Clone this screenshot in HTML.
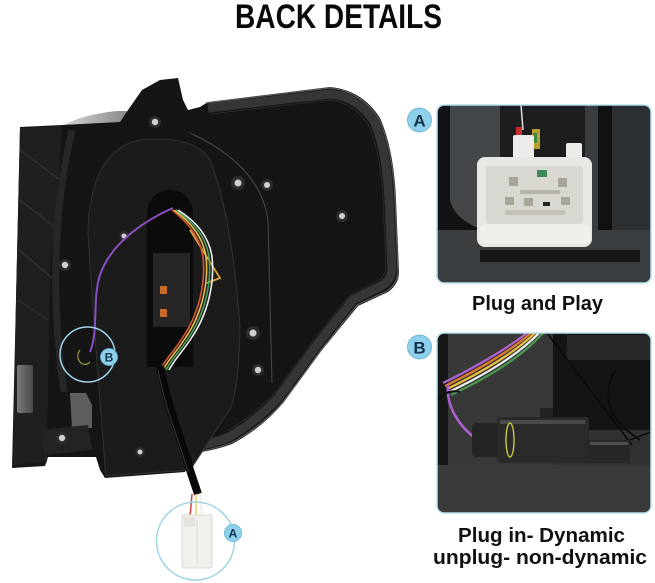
<!DOCTYPE html>
<html><head><meta charset="utf-8"><style>
html,body{margin:0;padding:0;background:#fff;}
svg{display:block}
text{font-family:"Liberation Sans",sans-serif;font-weight:bold;}
</style></head><body>
<svg width="655" height="583" viewBox="0 0 655 583" xmlns="http://www.w3.org/2000/svg">
<defs>
<clipPath id="ca"><rect x="437" y="105" width="214" height="178" rx="7"/></clipPath>
<clipPath id="cb"><rect x="437" y="333" width="214" height="180" rx="7"/></clipPath>
<linearGradient id="gb" x1="0" y1="0" x2="1" y2="0"><stop offset="0" stop-color="#7a7a7a"/><stop offset="1" stop-color="#4a4a4a"/></linearGradient>
<linearGradient id="gt" x1="0" y1="0" x2="1" y2="0"><stop offset="0" stop-color="#d8d8d8"/><stop offset="1" stop-color="#8a8a8a"/></linearGradient>
</defs>
<rect width="655" height="583" fill="#fff"/>
<text x="235" y="28" font-size="34" textLength="207" lengthAdjust="spacingAndGlyphs" fill="#0a0a0a">BACK DETAILS</text>

<!-- ===== LAMP ===== -->
<path d="M60,127 Q80,115 116,111 L127,111 L124,123 L62,129 Z" fill="url(#gt)"/>
<path d="M20,127 L62,125 L120,122 L128,110 L142,90 L160,80 L178,78 L183,100 L188,110 L200,107 L208,102 L330,87 Q362,90 380,118 Q394,150 396,200 L399,272 Q399,284 388,292 L358,306 L322,350 L284,402 Q262,428 232,444 Q210,452 190,453 L185,472 L105,478 L100,470 L96,457 L48,457 L45,466 L12,468 L16,300 Z" fill="#151515"/>
<!-- rim -->
<path d="M208,108 L330,94 Q357,96 374,121 Q387,152 389,200 L392,268 Q392,279 383,285 L353,300 L317,345 L279,397 Q257,421 229,437 Q210,445 192,446" fill="none" stroke="#363636" stroke-width="9"/>
<path d="M206,103 L330,88 Q361,91 379,119 Q393,151 395,200 L398,271 Q398,283 387,291 L357,305 L321,350 L283,402 Q261,427 231,443 Q210,451 190,452" fill="none" stroke="#5a5a5a" stroke-width="1.2"/>
<path d="M210,114 L330,100 Q352,102 368,124 Q381,154 383,200 L386,266 Q386,276 378,281 L349,296 L313,341 L275,393 Q253,416 227,431" fill="none" stroke="#2a2a2a" stroke-width="1"/>
<!-- left panel -->
<path d="M20,128 L62,126 Q58,200 50,265 L47,462 L13,465 L16,300 Z" fill="#1f1f1f"/>
<path d="M20,150 L60,180 M20,200 L56,228 M19,250 L52,278 M18,300 L48,320" stroke="#303030" stroke-width="1.5"/>
<path d="M72,130 Q44,250 64,392" fill="none" stroke="#272727" stroke-width="7"/>
<!-- plate -->
<path d="M88,233 Q90,150 140,140 Q195,135 210,160 Q233,220 240,330 Q238,400 228,412 L190,470 L106,476 L100,400 Q92,300 88,233 Z" fill="#1b1b1b" stroke="#2e2e2e" stroke-width="1.2"/>
<!-- gray blocks -->
<rect x="17" y="365" width="16" height="48" rx="2" fill="url(#gb)"/>
<path d="M70,393 L86,393 L92,405 L92,428 L72,428 Z" fill="#5e5e5e"/>
<path d="M40,430 L88,425 L92,450 L45,455 Z" fill="#232323"/>
<!-- light line right body -->
<path d="M190,133 Q260,165 268,220 L272,383" fill="none" stroke="#4a4a4a" stroke-width="1"/>
<!-- slot -->
<path d="M147,367 L147,213 A23,23 0 0 1 193,213 L193,367 Z" fill="#0b0b0b"/>
<rect x="153" y="253" width="37" height="74" fill="#262626"/>
<rect x="160" y="286" width="7" height="8" fill="#c86a2a"/>
<rect x="160" y="309" width="7" height="8" fill="#c86a2a"/>
<!-- screws -->
<g fill="#2c2c2c">
<circle cx="155" cy="122" r="6"/><circle cx="65" cy="265" r="6"/><circle cx="124" cy="236" r="5"/>
<circle cx="238" cy="183" r="7"/><circle cx="267" cy="185" r="6"/><circle cx="342" cy="216" r="6"/>
<circle cx="253" cy="333" r="7"/><circle cx="258" cy="370" r="6"/><circle cx="62" cy="438" r="6"/><circle cx="140" cy="452" r="5"/>
</g>
<g fill="#cfcfcf">
<circle cx="155" cy="122" r="3.2"/><circle cx="65" cy="265" r="3.2"/><circle cx="124" cy="236" r="2.5"/>
<circle cx="238" cy="183" r="3.5"/><circle cx="267" cy="185" r="3"/><circle cx="342" cy="216" r="3"/>
<circle cx="253" cy="333" r="3.5"/><circle cx="258" cy="370" r="3.2"/><circle cx="62" cy="438" r="3.2"/><circle cx="140" cy="452" r="2.5"/>
</g>
<!-- wires -->
<path d="M173,208 C150,218 112,240 100,275 C92,300 99,330 90,352" fill="none" stroke="#8a4fc0" stroke-width="2"/>
<path d="M190,230 L220,278 L207,283" fill="none" stroke="#e0a040" stroke-width="1.8"/>
<g fill="none" stroke-width="1.6">
<path d="M172,210 C185,220 200,235 203,257 C206,285 198,315 183,337 C175,350 165,360 160,370" stroke="#d05a30"/>
<path d="M174,210 C188,220 203,235 206,257 C209,285 201,315 186,337 C178,350 168,360 163,370" stroke="#e8c050"/>
<path d="M176,210 C191,220 206,235 209,257 C212,285 204,315 189,337 C181,350 171,360 166,370" stroke="#4aa060"/>
<path d="M178,210 C194,220 209,235 212,257 C215,285 207,315 192,337 C184,350 174,360 169,370" stroke="#eeeeee"/>
</g>
<!-- cable -->
<path d="M160,366 C168,410 182,440 190,470 L198,494" fill="none" stroke="#080808" stroke-width="8"/>
<path d="M158,370 C166,412 180,442 188,472" fill="none" stroke="#3a3a3a" stroke-width="1"/>
<path d="M192,494 L190,517" stroke="#d04040" stroke-width="1.5"/>
<path d="M196,494 L196,517" stroke="#e8d060" stroke-width="1.5"/>
<path d="M200,494 L202,517" stroke="#eeeeee" stroke-width="1.5"/>
<!-- connector A small -->
<rect x="182" y="515" width="30" height="53" rx="2" fill="#f1f0ec" stroke="#d8d8d4" stroke-width="1"/>
<line x1="197" y1="520" x2="197" y2="565" stroke="#dcdcd6" stroke-width="1"/>
<rect x="184" y="517" width="11" height="10" fill="#e4e3de"/>
<!-- circles -->
<circle cx="195.5" cy="541" r="39" fill="none" stroke="#9fd3e6" stroke-width="1.5"/>
<circle cx="87.5" cy="354.5" r="27.5" fill="none" stroke="#9fd3e6" stroke-width="1.5"/>
<path d="M80,350 A6,7 0 0 0 90,362" fill="none" stroke="#b0b040" stroke-width="1"/>
<circle cx="233" cy="533" r="8.5" fill="#8fd0ea" stroke="#5fb0d5" stroke-width="0.8"/>
<text x="233" y="537.5" font-size="12" text-anchor="middle" fill="#13324f">A</text>
<circle cx="109" cy="357" r="8.5" fill="#8fd0ea" stroke="#5fb0d5" stroke-width="0.8"/>
<text x="109" y="361.5" font-size="12" text-anchor="middle" fill="#13324f">B</text>

<!-- ===== PANEL A ===== -->
<g clip-path="url(#ca)">
<rect x="437" y="105" width="214" height="178" fill="#24272a"/>
<path d="M450,105 L500,105 L500,215 Q495,228 480,228 L450,222 Z" fill="#44474a"/>
<path d="M437,105 L450,105 L450,200 Q455,222 490,232 L437,232 Z" fill="#121314"/>
<rect x="500" y="105" width="85" height="123" fill="#1b1d1f"/>
<rect x="585" y="105" width="13" height="125" fill="#3a3d40"/>
<rect x="598" y="105" width="14" height="125" fill="#111"/>
<rect x="612" y="105" width="39" height="125" fill="#2d3033"/>
<rect x="437" y="230" width="214" height="53" fill="#3b3e41"/>
<rect x="480" y="250" width="160" height="12" fill="#161718"/>
<path d="M521,105 L523,130" stroke="#dddddd" stroke-width="1.5"/>
<rect x="516" y="127" width="6" height="9" fill="#c83030"/>
<rect x="532" y="129" width="8" height="20" fill="#b8a030"/>
<rect x="533" y="133" width="4" height="10" fill="#3a8a40"/>
<rect x="513" y="135" width="21" height="28" rx="2" fill="#ecebe7"/>
<rect x="566" y="143" width="16" height="20" rx="2" fill="#ecebe7"/>
<rect x="477" y="157" width="115" height="90" rx="8" fill="#e9e7e3"/>
<rect x="486" y="166" width="97" height="58" rx="3" fill="#d9d7d2"/>
<rect x="537" y="170" width="10" height="7" fill="#3e8a5a"/>
<rect x="509" y="177" width="9" height="9" fill="#a9a49a"/>
<rect x="558" y="178" width="9" height="9" fill="#a9a49a"/>
<rect x="520" y="190" width="40" height="4" fill="#b8b4ac"/>
<rect x="505" y="197" width="9" height="8" fill="#a9a49a"/>
<rect x="524" y="198" width="9" height="8" fill="#a9a49a"/>
<rect x="543" y="202" width="7" height="4" fill="#222"/>
<rect x="561" y="197" width="9" height="8" fill="#a9a49a"/>
<rect x="505" y="210" width="60" height="5" fill="#c4c0b8"/>
<rect x="480" y="224" width="110" height="20" rx="5" fill="#f0efec"/>
</g>
<rect x="437" y="105" width="214" height="178" rx="7" fill="none" stroke="#b5e0ee" stroke-width="1.5"/>
<circle cx="419.5" cy="120" r="12" fill="#8fd0ea" stroke="#5fb0d5" stroke-width="0.8"/>
<text x="419.5" y="126.5" font-size="17" text-anchor="middle" fill="#13324f">A</text>
<text x="472" y="310" font-size="20" textLength="131" lengthAdjust="spacingAndGlyphs" fill="#111">Plug and Play</text>

<!-- ===== PANEL B ===== -->
<g clip-path="url(#cb)">
<rect x="437" y="333" width="214" height="180" fill="#313131"/>
<rect x="437" y="333" width="11" height="180" fill="#161616"/>
<rect x="448" y="333" width="105" height="135" fill="#383838"/>
<rect x="553" y="333" width="98" height="97" fill="#141414"/>
<rect x="567" y="335" width="84" height="25" fill="#282828"/>
<rect x="437" y="465" width="214" height="48" fill="#3a3a3a"/>
<g fill="none" stroke-width="2.2">
<path d="M443,383 C470,370 505,350 527,333" stroke="#b060d0"/>
<path d="M445,386 C472,373 508,353 531,333" stroke="#e07a30"/>
<path d="M447,389 C474,376 511,356 535,333" stroke="#e8c040"/>
<path d="M449,392 C476,379 514,359 539,333" stroke="#eeeeee"/>
<path d="M451,395 C478,382 517,362 543,333" stroke="#4a9a50"/>
</g>
<path d="M448,385 C446,405 458,425 475,438" fill="none" stroke="#b060d0" stroke-width="2.5"/>
<path d="M437,400 C445,392 452,390 460,392" fill="none" stroke="#111" stroke-width="2"/>
<path d="M547,333 L632,445" fill="none" stroke="#0c0c0c" stroke-width="1.8"/>
<path d="M640,440 C610,420 600,400 615,370" fill="none" stroke="#0c0c0c" stroke-width="1.8"/>
<path d="M630,440 L651,432" fill="none" stroke="#0c0c0c" stroke-width="1.5"/>
<rect x="472" y="423" width="30" height="34" rx="4" fill="#252525"/>
<rect x="497" y="417" width="92" height="46" rx="3" fill="#2a2a2a"/>
<rect x="587" y="440" width="43" height="23" rx="2" fill="#272727"/>
<rect x="540" y="408" width="13" height="10" fill="#222"/>
<rect x="500" y="420" width="85" height="4" fill="#4a4a4a"/>
<rect x="590" y="442" width="38" height="3" fill="#505050"/>
<ellipse cx="510" cy="440" rx="4" ry="17" fill="none" stroke="#c8c840" stroke-width="1.4"/>
</g>
<rect x="437" y="333" width="214" height="180" rx="7" fill="none" stroke="#b5e0ee" stroke-width="1.5"/>
<circle cx="419.5" cy="347" r="12" fill="#8fd0ea" stroke="#5fb0d5" stroke-width="0.8"/>
<text x="419.5" y="353.5" font-size="17" text-anchor="middle" fill="#13324f">B</text>
<text x="458" y="542" font-size="20" textLength="167" lengthAdjust="spacingAndGlyphs" fill="#111">Plug in- Dynamic</text>
<text x="433" y="564" font-size="20" textLength="214" lengthAdjust="spacingAndGlyphs" fill="#111">unplug- non-dynamic</text>
</svg>
</body></html>
